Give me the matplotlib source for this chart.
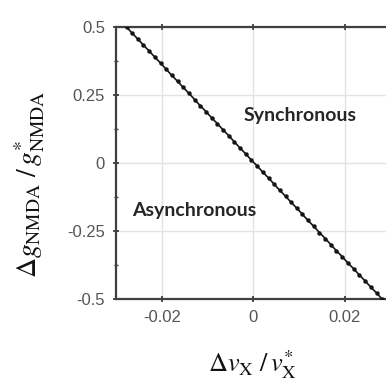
import matplotlib
matplotlib.use("Agg")
import matplotlib.pyplot as plt
from matplotlib.ticker import MultipleLocator

plt.rcParams['mathtext.fontset'] = 'stix'

# boundary between synchronous / asynchronous regimes
dv_x = [-0.0277, -0.0265, -0.0252, -0.0240, -0.0227, -0.0215, -0.0202, -0.0190,
        -0.0178, -0.0165, -0.0153, -0.0140, -0.0128, -0.0116, -0.0103, -0.0091,
        -0.0078, -0.0066, -0.0053, -0.0041, -0.0029, -0.0016, -0.0004, 0.0009,
        0.0021, 0.0034, 0.0046, 0.0058, 0.0071, 0.0083, 0.0096, 0.0108,
        0.0120, 0.0133, 0.0145, 0.0158, 0.0170, 0.0182, 0.0195, 0.0207,
        0.0220, 0.0232, 0.0245, 0.0257, 0.0270, 0.0282]
dg_nmda = [0.5000, 0.4778, 0.4556, 0.4333, 0.4111, 0.3889, 0.3667, 0.3444,
           0.3222, 0.3000, 0.2778, 0.2556, 0.2333, 0.2111, 0.1889, 0.1667,
           0.1444, 0.1222, 0.1000, 0.0778, 0.0556, 0.0333, 0.0111, -0.0111,
           -0.0333, -0.0556, -0.0778, -0.1000, -0.1222, -0.1444, -0.1667, -0.1889,
           -0.2111, -0.2333, -0.2556, -0.2778, -0.3000, -0.3222, -0.3444, -0.3667,
           -0.3889, -0.4111, -0.4333, -0.4556, -0.4778, -0.5000]

x_ticks = [-0.02, 0, 0.02]
x_ticklabels = ['-0.02', '0', '0.02']
y_ticks = [-0.5, -0.25, 0, 0.25, 0.5]
y_ticklabels = ['-0.5', '-0.25', '0', '0.25', '0.5']

region_labels = ['Synchronous', 'Asynchronous']
region_pos = [(0.0103, 0.176), (-0.0128, -0.176)]

fig = plt.figure(figsize=(3.86, 3.83), dpi=100)
ax = fig.add_axes([0.3005, 0.2193, 0.7105, 0.7102])

ax.plot(dv_x, dg_nmda, color='#151515', linewidth=1.2, marker='o',
        markersize=3.2, markeredgewidth=0, zorder=3)

ax.set_xlim(-0.03, 0.03)
ax.set_ylim(-0.5, 0.5)
ax.set_xticks(x_ticks)
ax.set_xticklabels(x_ticklabels)
ax.set_yticks(y_ticks)
ax.set_yticklabels(y_ticklabels)
ax.yaxis.set_minor_locator(MultipleLocator(0.125))

ax.grid(True, color='#e2e2e2', linewidth=1.0, zorder=0)
ax.set_axisbelow(True)

spine_col = '#404040'
for side in ['left', 'bottom', 'top']:
    ax.spines[side].set_color(spine_col)
    ax.spines[side].set_linewidth(1.6)
ax.spines['right'].set_visible(False)

ax.tick_params(which='major', direction='inout', length=4, width=1.3,
               color=spine_col, top=True, labelsize=12, labelcolor='#555555',
               pad=6)
ax.tick_params(which='minor', direction='inout', length=2.5, width=1.0,
               color=spine_col)
for lab in ax.get_xticklabels() + ax.get_yticklabels():
    lab.set_fontfamily('Liberation Sans')

for txt, (px, py) in zip(region_labels, region_pos):
    ax.text(px, py, txt, ha='center', va='center', fontsize=14,
            fontweight='bold', family='Lato', color='#262626')

fig.text(30 / 386, 1 - 184 / 383,
         r'$\Delta g_{\mathrm{NMDA}}\ /\,g^{*}_{\mathrm{NMDA}}$',
         rotation=90, ha='center', va='center', fontsize=20, color='#111111')
fig.text(252 / 386, 1 - 365 / 383,
         r'$\Delta v_{\mathrm{X}}\ /\,v^{*}_{\mathrm{X}}$',
         ha='center', va='center', fontsize=19, color='#111111')

fig.savefig('out.png', dpi=100)
